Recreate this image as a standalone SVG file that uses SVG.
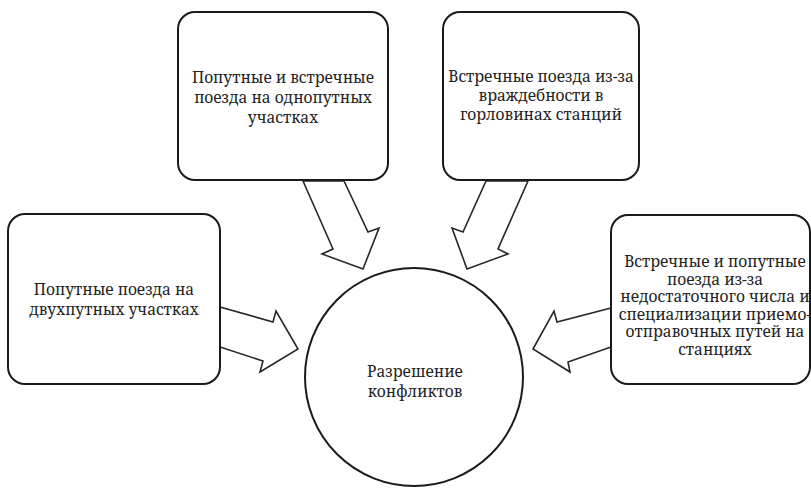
<svg xmlns="http://www.w3.org/2000/svg" width="811" height="488" viewBox="0 0 811 488">
<style>
.box{fill:#fff;stroke:#1a1a1a;stroke-width:2}
.arr{fill:#fff;stroke:#262626;stroke-width:1.6;stroke-linejoin:miter}
.t{font-family:'Noto Serif','DejaVu Serif Condensed','Liberation Serif',serif;font-size:15.5px;fill:#222;text-anchor:middle}
</style>
<rect width="811" height="488" fill="#fff"/>
<g id="connectors">
<polygon class="arr" points="303,181 333,249 322,254 363,269 379,228 368,232 344,181"/>
<polygon class="arr" points="528,181 498,249 508,254 467,269 452,228 463,232 486,181"/>
<polygon class="arr" points="220,307 273,322 276,311 298,349 260,372 263,361 220,347"/>
<polygon class="arr" points="611,308 557,322 554,311 533,349 570,372 568,362 611,347"/>
</g>
<g id="node-top-left">
<rect class="box" x="178" y="12" width="210" height="168" rx="17"/>
<text class="t" x="283" y="83">Попутные и встречные</text>
<text class="t" x="283" y="103">поезда на однопутных</text>
<text class="t" x="283" y="123">участках</text>
</g>
<g id="node-top-right">
<rect class="box" x="443" y="12" width="196" height="168" rx="17"/>
<text class="t" x="541" y="82">Встречные поезда из-за</text>
<text class="t" x="541" y="101">враждебности в</text>
<text class="t" x="541" y="120">горловинах станций</text>
</g>
<g id="node-left">
<rect class="box" x="8" y="214" width="212" height="170" rx="17"/>
<text class="t" x="114" y="295">Попутные поезда на</text>
<text class="t" x="114" y="315">двухпутных участках</text>
</g>
<g id="node-right">
<rect class="box" x="611" y="215" width="199" height="169" rx="17"/>
<text class="t" x="715" y="267">Встречные и попутные</text>
<text class="t" x="715" y="284.5">поезда из-за</text>
<text class="t" x="715" y="302">недостаточного числа и</text>
<text class="t" x="715" y="319.5">специализации приемо-</text>
<text class="t" x="715" y="337">отправочных путей на</text>
<text class="t" x="715" y="354.5">станциях</text>
</g>
<g id="node-center">
<circle class="box" cx="414" cy="377" r="109"/>
<text class="t" x="415" y="377">Разрешение</text>
<text class="t" x="415" y="397">конфликтов</text>
</g>
</svg>
